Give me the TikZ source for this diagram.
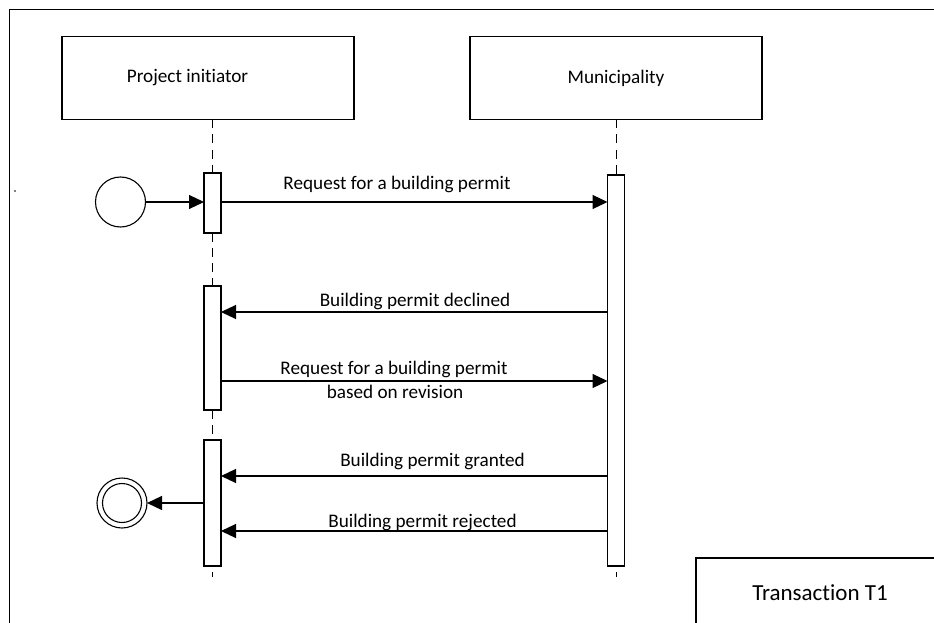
\documentclass[tikz,border=0pt]{standalone}
\usepackage{fontspec}
\setmainfont{Carlito}[Ligatures=NoCommon]
\usetikzlibrary{arrows.meta}
\begin{document}
\begin{tikzpicture}[x=1pt,y=-1pt,
  every node/.style={inner sep=0pt,outer sep=0pt},
  lifebox/.style={draw,line width=1.2pt,minimum width=292pt,minimum height=83pt},
  actbox/.style={draw,fill=white,line width=1.1pt,minimum width=17pt},
  lbl/.style={font=\fontsize{19.2}{23}\selectfont,align=center},
  msg/.style={line width=1.1pt,-{Triangle[length=15pt,width=14pt]}},
  life/.style={line width=1pt,dash pattern=on 9pt off 6pt}]
\useasboundingbox (0,0) rectangle (934,623);
% frame
\draw[line width=1.3pt] (9.5,623) -- (9.5,9.5) -- (934,9.5);
\fill (15,191) circle (0.8pt);
% lifeline heads
\node[lifebox] (pi) at (208,78) {};
\node[lbl,anchor=center] (pit) at (187.5,78) {Project initiator};
\node[lifebox] (mu) at (616,78) {};
\node[lbl] (mut) at (616,78) {Municipality};
% activations
\node[actbox,minimum height=60pt] (a1) at (212.5,203) {};
\node[actbox,minimum height=124pt] (a2) at (212.5,348) {};
\node[actbox,minimum height=126pt] (a3) at (212.5,503) {};
\node[actbox,minimum height=391pt] (m1) at (616,370.5) {};
% lifelines
\draw[life] (a1.north |- pi.south) -- (a1.north);
\draw[life] (a1.south) -- (a2.north);
\draw[life] (a2.south) -- (a3.north);
\draw[life] (m1.north |- mu.south) -- (m1.north);
\coordinate (pe) at (212.5,577);
\coordinate (me) at (616,577);
\draw[line width=1pt] (a3.south |- 0,572) -- (pe);
\draw[line width=1pt] (m1.south |- 0,572) -- (me);
% start / end
\node[draw,circle,line width=1.1pt,minimum size=50pt] (st) at (120.5,202) {};
\node[draw,circle,line width=1.1pt,minimum size=50pt] (en) at (122,503) {};
\node[draw,circle,line width=1.1pt,minimum size=39pt] (en2) at (122,503) {};
\draw[msg] (st.east) -- (a1.west |- st.east);
\draw[msg] (a3.west |- en.east) -- (en.east);
% messages
\draw[msg] (a1.east |- 0,202) -- (m1.west |- 0,202);
\node[lbl] (l1) at (397,184) {Request for a building permit};
\draw[msg] (m1.west |- 0,312) -- (a2.east |- 0,312);
\node[lbl] (l2) at (415,301) {Building permit declined};
\draw[msg] (a2.east |- 0,381) -- (m1.west |- 0,381);
\node[lbl] (l3) at (394,369) {Request for a building permit};
\node[lbl] (l3b) at (395,392) {based on revision};
\draw[msg] (m1.west |- 0,476) -- (a3.east |- 0,476);
\node[lbl] (l4) at (432.5,461) {Building permit granted};
\draw[msg] (m1.west |- 0,531) -- (a3.east |- 0,531);
\node[lbl] (l5) at (422.5,522) {Building permit rejected};
% transaction box
\draw[line width=1.2pt] (696,623) -- (696,558) -- (934,558);
\node[font=\fontsize{23}{27}\selectfont] (tt) at (820,593) {Transaction T1};
\end{tikzpicture}
\end{document}
